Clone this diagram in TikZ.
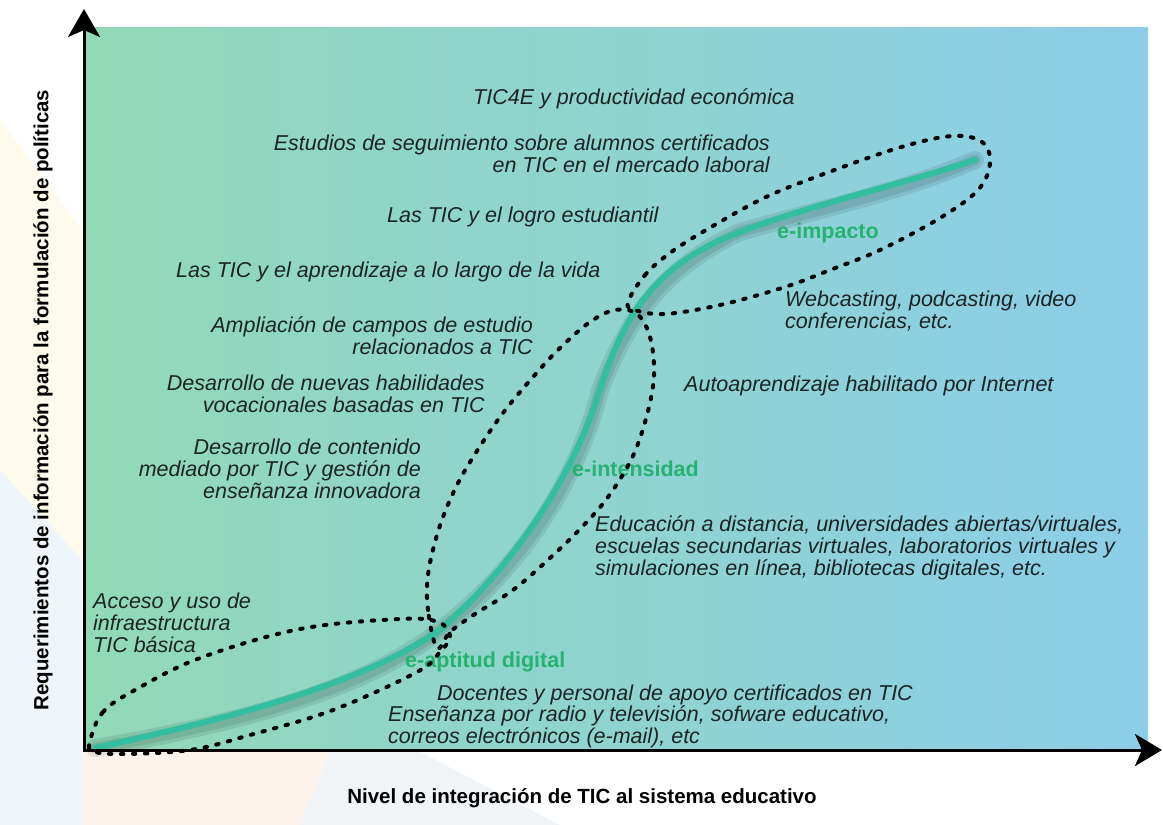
\documentclass[tikz,border=0pt]{standalone}
\usepackage{fontspec}
\setmainfont{Liberation Sans}
\usetikzlibrary{arrows.meta}
\definecolor{bgL}{RGB}{146,217,184}
\definecolor{bgR}{RGB}{140,206,232}
\definecolor{curveC}{RGB}{52,190,160}
\definecolor{lblC}{RGB}{38,178,112}
\definecolor{txt}{RGB}{28,36,36}
\definecolor{wmY}{RGB}{254,251,236}
\definecolor{wmB}{RGB}{238,246,251}
\definecolor{wmO}{RGB}{252,243,236}
\definecolor{wmG}{RGB}{241,244,247}
\begin{document}
\begin{tikzpicture}[x=1pt,y=-1pt,
  itm/.style={font=\fontsize{21.5}{22}\selectfont\itshape, text=txt, inner sep=0pt},
  itL/.style={itm, align=left},
  itR/.style={itm, align=right},
  lbl/.style={font=\fontsize{21.5}{22}\selectfont\bfseries, text=lblC, inner sep=0pt},
  axlbl/.style={font=\fontsize{20.5}{22}\selectfont\bfseries, text=black, inner sep=0pt},
  dotloop/.style={line width=4pt, dash pattern=on 2.5pt off 9.5pt, line cap=round, black},
  axisline/.style={line width=3pt, line join=miter},
  curveline/.style={line width=6pt, curveC, line cap=round},
  curveshadow/.style={line cap=round, black, opacity=0.09}
]
\useasboundingbox (0,0) rectangle (1163,825);
\fill[white] (0,0) rectangle (1163,825);
% faint watermark shapes
\fill[wmY] (0,120) -- (82,230) -- (82,560) -- (0,470) -- cycle;
\fill[wmB] (0,470) -- (82,560) -- (82,825) -- (0,825) -- cycle;
\fill[wmO] (82,752) -- (330,752) -- (300,825) -- (82,825) -- cycle;
\fill[wmG] (330,752) -- (420,752) -- (560,825) -- (300,825) -- cycle;
% background
\shade[left color=bgL, right color=bgR] (85,27) rectangle (1148,750);
% curve with shadow
\coordinate (c0) at (95,748);
\coordinate (c1) at (440,630);
\coordinate (c2) at (600,390);
\coordinate (c3) at (740,232);
\coordinate (c4) at (975,160);
\begin{scope}[shift={(4,6)}]
\draw[curveshadow, line width=18pt] (c0) .. controls (230,718) and (360,685) .. (c1) .. controls (520,560) and (575,470) .. (c2) .. controls (625,310) and (660,262) .. (c3) .. controls (820,202) and (900,185) .. (c4);
\draw[curveshadow, line width=11pt] (c0) .. controls (230,718) and (360,685) .. (c1) .. controls (520,560) and (575,470) .. (c2) .. controls (625,310) and (660,262) .. (c3) .. controls (820,202) and (900,185) .. (c4);
\end{scope}
\draw[curveline] (c0) .. controls (230,718) and (360,685) .. (c1) .. controls (520,560) and (575,470) .. (c2) .. controls (625,310) and (660,262) .. (c3) .. controls (820,202) and (900,185) .. (c4);
% texts
\node[itm, anchor=base west] (t1) at (473,104) {TIC4E y productividad económica};
\node[itR, anchor=north east] (t2) at (770,134.5) {Estudios de seguimiento sobre alumnos certificados\\en TIC en el mercado laboral};
\node[itm, anchor=base west] (t3) at (387,222) {Las TIC y el logro estudiantil};
\node[itm, anchor=base west] (t4) at (176,277) {Las TIC y el aprendizaje a lo largo de la vida};
\node[itR, anchor=north east] (t5) at (533,316.5) {Ampliación de campos de estudio\\relacionados a TIC};
\node[itR, anchor=north east] (t6) at (485,374.5) {Desarrollo de nuevas habilidades\\vocacionales basadas en TIC};
\node[itR, anchor=north east] (t7) at (421,438.5) {Desarrollo de contenido\\mediado por TIC y gestión de\\enseñanza innovadora};
\node[itL, anchor=north west] (t8) at (93,592.5) {Acceso y uso de\\infraestructura\\TIC básica};
\node[itL, anchor=north west] (t9) at (785,290.5) {Webcasting, podcasting, video\\conferencias, etc.};
\node[itm, anchor=base west] (t10) at (684,391) {Autoaprendizaje habilitado por Internet};
\node[itL, anchor=north west] (t11) at (595,515.5) {Educación a distancia, universidades abiertas/virtuales,\\escuelas secundarias virtuales, laboratorios virtuales y\\simulaciones en línea, bibliotecas digitales, etc.};
\node[itm, anchor=base west] (t12) at (437,700) {Docentes y personal de apoyo certificados en TIC};
\node[itL, anchor=north west] (t13) at (388,705.5) {Enseñanza por radio y televisión, sofware educativo,\\correos electrónicos (e-mail), etc};
% stage labels
\node[lbl, anchor=base west] (l1) at (777,238) {e-impacto};
\node[lbl, anchor=base west] (l2) at (572,476) {e-intensidad};
\node[lbl, anchor=base west] (l3) at (405,667) {e-aptitud digital};
% dotted loops
\draw[dotloop] plot[smooth cycle, tension=0.6] coordinates {(90,741) (103,712) (135,690) (200,658) (300,629) (400,619) (438,622) (450,636) (440,652) (417,672) (333,710) (250,735) (190,750) (120,754) (93,751)};
\draw[dotloop] plot[smooth cycle, tension=0.6] coordinates {(437,648) (428,610) (428,575) (437,535) (450,500) (467,467) (500,417) (533,377) (560,348) (590,322) (615,310) (637,314) (650,337) (654,375) (647,415) (632,458) (608,497) (582,527) (550,558) (513,590) (475,614) (450,632)};
\draw[dotloop] plot[smooth cycle, tension=0.6] coordinates {(628,302) (645,275) (670,253) (706,230) (764,198) (821,175) (898,148) (952,136) (982,142) (990,163) (978,190) (940,218) (880,250) (830,270) (785,287) (720,305) (665,314) (635,310)};
% axes
\coordinate (O) at (84,750);
\coordinate (ytip) at (84,9);
\coordinate (xtip) at (1162,750);
\draw[axisline, {Stealth[length=28pt,width=32pt,inset=7pt]}-{Stealth[length=27pt,width=32pt,inset=7pt]}] (ytip) -- (O) -- (xtip);
% axis labels
\node[axlbl, anchor=base] (xl) at (582,803) {Nivel de integración de TIC al sistema educativo};
\node[axlbl, rotate=90, anchor=center] (yl) at (43,400) {Requerimientos de información para la formulación de políticas};
\end{tikzpicture}
\end{document}
